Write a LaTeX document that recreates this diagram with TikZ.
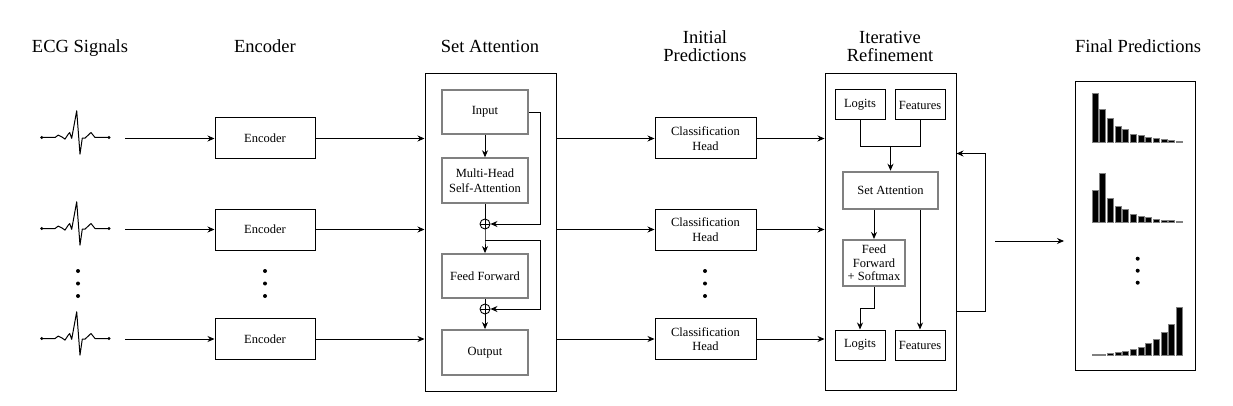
\documentclass[tikz,border=0pt]{standalone}
\usepackage{fontspec}
\setmainfont{Liberation Serif}
\usetikzlibrary{arrows.meta,calc}
\definecolor{bordergray}{RGB}{128,128,128}
\begin{document}
\begin{tikzpicture}[x=1pt,y=-1pt,
  title/.style={font=\fontsize{18.5}{18}\selectfont, align=center, anchor=base, inner sep=0pt},
  box/.style={draw, line width=1pt, inner sep=0pt, align=center, font=\fontsize{12.5}{14.5}\selectfont},
  gbox/.style={box, draw=bordergray, line width=1.8pt},
  frame/.style={draw, line width=1pt, inner sep=0pt},
  arr/.style={-{Stealth[length=7pt,width=6pt]}, line width=0.9pt},
  ln/.style={line width=0.9pt},
  dot/.style={circle, fill, inner sep=0pt, minimum size=4pt},
  oplus/.style={circle, draw, line width=0.9pt, inner sep=0pt, minimum size=10pt,
    path picture={\draw[line width=0.9pt] (path picture bounding box.north) -- (path picture bounding box.south)
      (path picture bounding box.west) -- (path picture bounding box.east);}},
  ecg/.pic={
    \draw[line width=1pt, line join=round] (0,0) -- (13.3,0) -- (16.6,-2.4) -- (20,-0.7) -- (23.3,1.6) -- (26.6,-3.4) -- (28,-5) -- (30,0.8) -- (35,-26.7) -- (38.3,16.6) -- (40.6,0.6) -- (43.3,0.6) -- (49.3,-5) -- (53.3,0) -- (67.3,0);
    \fill (0,0) circle (1.6pt) (67.3,0) circle (1.6pt);
  }
]
\useasboundingbox (0,0) rectangle (1233,406);

% titles
\node[title] (t1) at (80,53) {ECG Signals};
\node[title] (t2) at (265,53) {Encoder};
\node[title] (t3) at (490,53) {Set Attention};
\node[title] (t4) at (705,62) {Initial\\Predictions};
\node[title] (t5) at (890,62) {Iterative\\Refinement};
\node[title] (t6) at (1138,53) {Final Predictions};

% ECG signals
\pic at (41.7,137.5) {ecg};
\pic at (41.7,228.5) {ecg};
\pic at (41.7,338.5) {ecg};
\coordinate (s1) at (125,138.5);
\coordinate (s2) at (125,229.5);
\coordinate (s3) at (125,339);
\node[dot] (d1a) at (78,271) {};
\node[dot] (d1b) at (78,283.5) {};
\node[dot] (d1c) at (78,296) {};

% encoders
\node[box, minimum width=100pt, minimum height=41pt] (e1) at (265,138.5) {Encoder};
\node[box, minimum width=100pt, minimum height=41pt] (e2) at (265,229.5) {Encoder};
\node[box, minimum width=100pt, minimum height=41pt] (e3) at (265,339) {Encoder};
\node[dot] (d2a) at (265,271) {};
\node[dot] (d2b) at (265,283.5) {};
\node[dot] (d2c) at (265,296) {};
\draw[arr] (s1) -- (e1.west);
\draw[arr] (s2) -- (e2.west);
\draw[arr] (s3) -- (e3.west);

% set attention block
\node[frame, minimum width=131pt, minimum height=317pt] (sa) at (490.5,232.5) {};
\node[gbox, minimum width=86pt, minimum height=44pt] (inp) at (485,112) {Input};
\node[gbox, minimum width=86pt, minimum height=45pt] (mh) at (485,180.7) {Multi-Head\\Self-Attention};
\node[oplus] (c1) at (485,224) {};
\node[gbox, minimum width=86pt, minimum height=44pt] (ff) at (485,276) {Feed Forward};
\node[oplus] (c2) at (485,309) {};
\node[gbox, minimum width=86pt, minimum height=45pt] (out) at (485,352.5) {Output};
\coordinate (r1) at (540,112);
\coordinate (j1) at (485,240);
\coordinate (r2) at (540,240);
\draw[arr] (inp.south) -- (mh.north);
\draw[ln] (mh.south) -- (c1.north);
\draw[arr] (inp.east) -- (r1) -- (r1 |- c1) -- (c1.east);
\draw[arr] (c1.south) -- (j1) -- (ff.north);
\draw[arr] (j1) -- (r2) -- (r2 |- c2) -- (c2.east);
\draw[ln] (ff.south) -- (c2.north);
\draw[arr] (c2.south) -- (out.north);
\draw[arr] (e1.east) -- (e1 -| sa.west);
\draw[arr] (e2.east) -- (e2 -| sa.west);
\draw[arr] (e3.east) -- (e3 -| sa.west);

% classification heads
\node[box, minimum width=101pt, minimum height=41pt] (h1) at (705.5,138.5) {Classification\\Head};
\node[box, minimum width=101pt, minimum height=41pt] (h2) at (705.5,229.5) {Classification\\Head};
\node[box, minimum width=101pt, minimum height=41pt] (h3) at (705.5,339) {Classification\\Head};
\node[dot] (d3a) at (705,271) {};
\node[dot] (d3b) at (705,283.5) {};
\node[dot] (d3c) at (705,296) {};
\draw[arr] (h1 -| sa.east) -- (h1.west);
\draw[arr] (h2 -| sa.east) -- (h2.west);
\draw[arr] (h3 -| sa.east) -- (h3.west);

% iterative refinement
\node[frame, minimum width=131pt, minimum height=316pt] (ir) at (890.5,232) {};
\node[box, minimum width=50pt, minimum height=30pt] (lt) at (860,105) {Logits};
\node[box, minimum width=50pt, minimum height=30pt] (ft) at (920,105) {Features};
\node[gbox, minimum width=95.5pt, minimum height=37.3pt] (sat) at (890.5,190.3) {Set Attention};
\node[gbox, minimum width=62.3pt, minimum height=46.3pt, font=\fontsize{12.5}{13.5}\selectfont] (ffs) at (874,263) {Feed\\Forward\\+ Softmax};
\node[box, minimum width=50pt, minimum height=30pt] (lb) at (860,345) {Logits};
\node[box, minimum width=50pt, minimum height=30pt] (fb) at (920,345) {Features};
\coordinate (m1) at (890.5,146);
\coordinate (m2) at (874,308);
\draw[ln] (lt.south) -- (lt.south |- m1) -- (ft.south |- m1) -- (ft.south);
\draw[arr] (m1) -- (sat.north);
\draw[arr] (ffs.north |- sat.south) -- (ffs.north);
\draw[arr] (fb.north |- sat.south) -- (fb.north);
\draw[arr] (ffs.south) -- (m2) -- (lb.north |- m2) -- (lb.north);
\draw[arr] (h1.east) -- (h1 -| ir.west);
\draw[arr] (h2.east) -- (h2 -| ir.west);
\draw[arr] (h3.east) -- (h3 -| ir.west);

% feedback loop
\coordinate (fo) at (985,311);
\coordinate (fi) at (985,153.5);
\draw[arr] (fo -| ir.east) -- (fo) -- (fi) -- (fi -| ir.east);

% final predictions
\node[frame, minimum width=120.5pt, minimum height=288pt] (fp) at (1135.5,226) {};
\coordinate (fa) at (995,241);
\coordinate (fz) at (1064,241);
\draw[arr] (fa) -- (fz);
\foreach \h [count=\i from 0] in {48.3,32.3,24,16,13,8,6.3,4.7,3.3,2.3,1.7,1}
  \fill[draw=bordergray, line width=0.3pt] (1091.7+\i*7.67,141.7) rectangle ++(6,-\h);
\foreach \h [count=\i from 0] in {32,48.3,24,15.7,12.7,7.7,5.7,4.3,3,2,1.3,0.7}
  \fill[draw=bordergray, line width=0.3pt] (1091.7+\i*7.67,221.7) rectangle ++(6,-\h);
\foreach \h [count=\i from 0] in {1,1.3,2.3,3,4.3,6,7.7,12.3,15.7,23.3,31.3,47.7}
  \fill[draw=bordergray, line width=0.3pt] (1091.7+\i*7.67,355) rectangle ++(6,-\h);
\node[dot] (d4a) at (1137.7,258.7) {};
\node[dot] (d4b) at (1137.7,270.7) {};
\node[dot] (d4c) at (1137.7,282.7) {};
\end{tikzpicture}
\end{document}
